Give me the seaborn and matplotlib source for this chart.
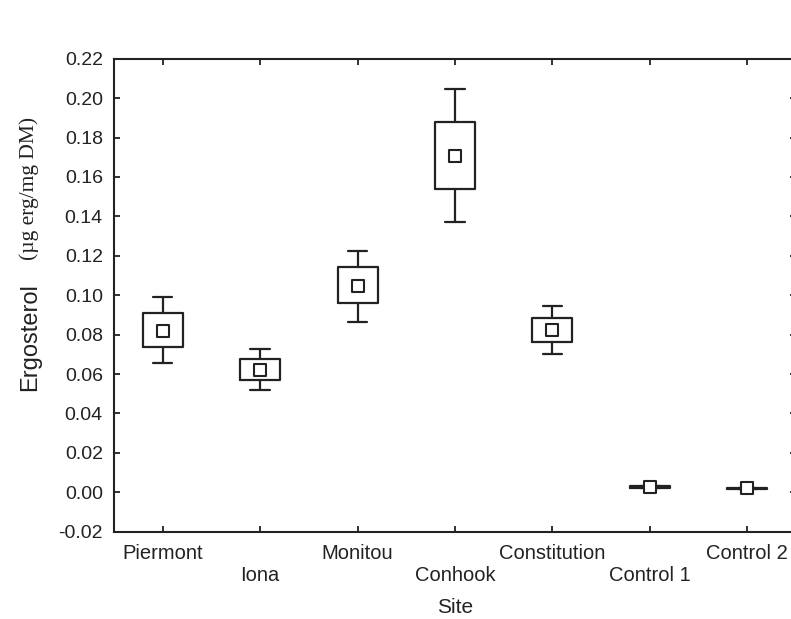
# Ergosterol by site: mean (square), box and whiskers
import numpy as np
import pandas as pd
import matplotlib
matplotlib.use("Agg")
import matplotlib.pyplot as plt
import seaborn as sns

# %%
# Data
sites = ["Piermont", "Iona", "Monitou", "Conhook", "Constitution", "Control 1", "Control 2"]
means = [0.0820, 0.0620, 0.1048, 0.1705, 0.0822, 0.0027, 0.0020]
box_low = [0.0736, 0.0570, 0.0959, 0.1539, 0.0761, 0.0024, 0.0018]
box_high = [0.0911, 0.0676, 0.1142, 0.1879, 0.0886, 0.0030, 0.0022]
whisker_low = [0.0654, 0.0517, 0.0866, 0.1371, 0.0703, 0.0021, 0.0016]
whisker_high = [0.0989, 0.0727, 0.1225, 0.2046, 0.0945, 0.0033, 0.0024]
y_ticks = [-0.02, 0.00, 0.02, 0.04, 0.06, 0.08, 0.10, 0.12, 0.14, 0.16, 0.18, 0.20, 0.22]

# %%
sns.set_style("ticks")
plt.rcParams["font.family"] = ["Liberation Sans", "DejaVu Sans"]
plt.rcParams["axes.unicode_minus"] = False

ink = "#222222"
positions = np.arange(len(sites))
df = pd.DataFrame({"site": sites, "pos": positions, "mean": means})

fig = plt.figure(figsize = (7.91, 6.19), dpi = 100)
ax = fig.add_axes([0.1441, 0.141, 0.8622, 0.7642])

stats = []
for i in range(len(sites)):
    stats.append({"med": means[i], "q1": box_low[i], "q3": box_high[i],
                  "whislo": whisker_low[i], "whishi": whisker_high[i], "fliers": []})

line = dict(color = ink, linewidth = 1.6)
ax.bxp(stats, positions = positions, widths = 0.41, capwidths = 0.2,
       showfliers = False, boxprops = line, whiskerprops = line, capprops = line,
       medianprops = dict(linewidth = 0), manage_ticks = False)

# mean markers
sns.scatterplot(data = df, x = "pos", y = "mean", marker = "s", s = 66,
                color = "white", edgecolor = ink, linewidth = 1.5,
                legend = False, zorder = 3, ax = ax)

# axes look
ax.set_xlim(-0.5, 6.5)
ax.set_ylim(y_ticks[0], y_ticks[-1])
ax.set_yticks(y_ticks)
ax.set_yticklabels([f"{v:.2f}" for v in y_ticks], fontsize = 14, color = ink)
ax.set_xticks(positions)
ax.set_xticklabels([s if i % 2 == 0 else "\n" + s for i, s in enumerate(sites)],
                   fontsize = 14.5, color = ink)
ax.tick_params(axis = "both", direction = "in", length = 4, width = 1.3, color = ink)
ax.tick_params(axis = "x", top = True, pad = 9)
ax.tick_params(axis = "y", right = True, pad = 8)
for side in ["top", "left", "bottom", "right"]:
    ax.spines[side].set_color(ink)
    ax.spines[side].set_linewidth(1.5)

ax.set_xlabel("Site", fontsize = 15, color = ink, labelpad = 9)
ax.set_ylabel("")

fig.text(0.038, 0.4556, "Ergosterol", rotation = 90, ha = "center", va = "center",
         fontsize = 17, color = ink)
fig.text(0.037, 0.696, "(µg erg/mg DM)", rotation = 90, ha = "center", va = "center",
         fontsize = 15.5, color = ink, family = ["Liberation Serif", "DejaVu Serif"])

fig.savefig("out.png", dpi = 100)
